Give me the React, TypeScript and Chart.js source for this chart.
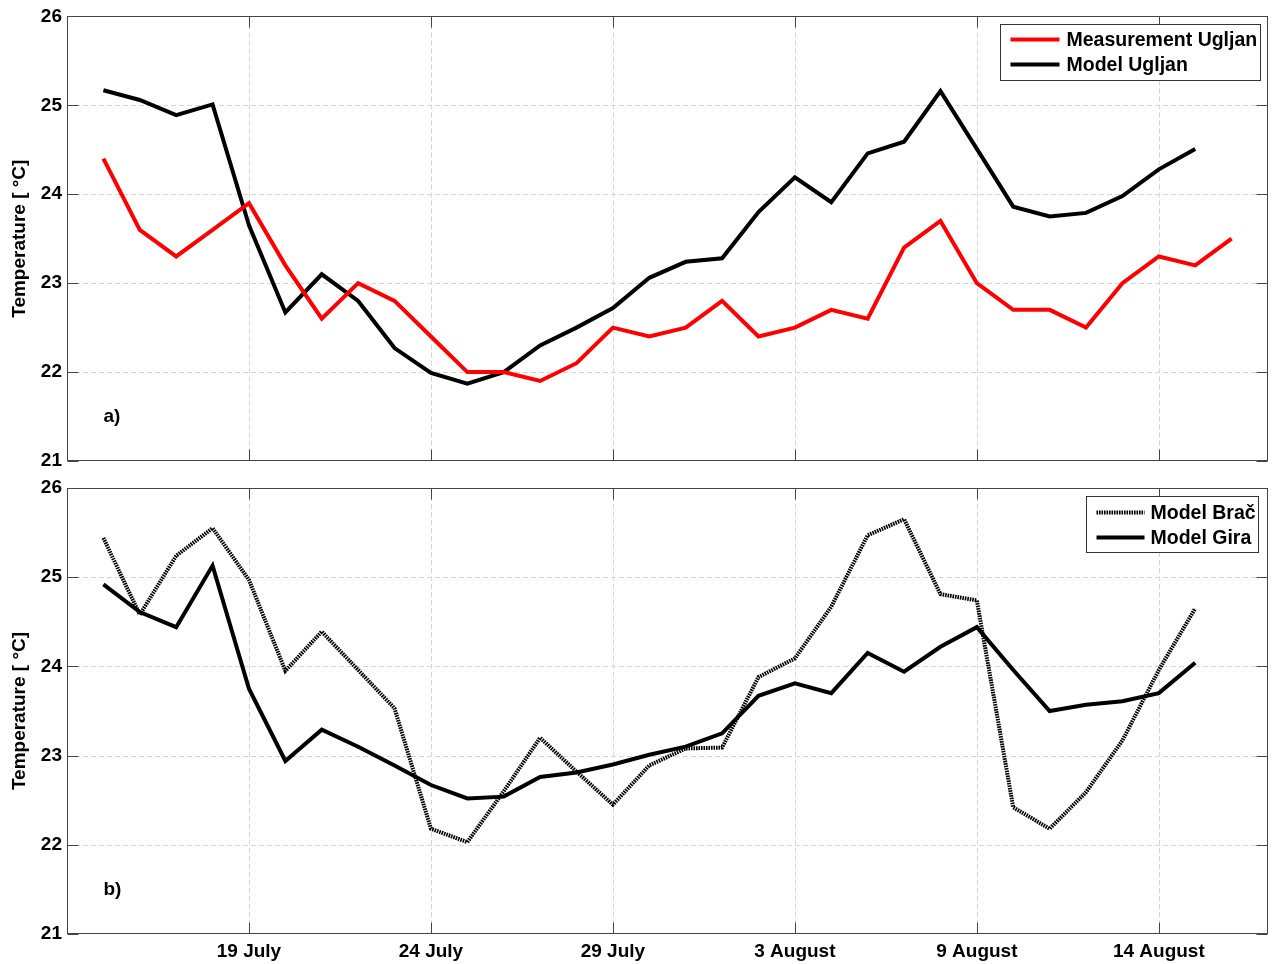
import React, { useEffect, useRef } from "react";
import { Chart, registerables } from "chart.js";

Chart.register(...registerables);

const FONT = "'Liberation Sans', Arial, Helvetica, sans-serif";

// Day index: 0 = 14 July
const tickDays = [5, 10, 15, 20, 25, 30];
const tickLabels = ["19 July", "24 July", "29 July", "3 August", "9 August", "14 August"];
const yTickValues = [21, 22, 23, 24, 25, 26];

const measurementUgljan = [
  24.4, 23.6, 23.3, 23.6, 23.9, 23.2, 22.6, 23.0, 22.8, 22.4, 22.0, 22.0, 21.9, 22.1, 22.5, 22.4,
  22.5, 22.8, 22.4, 22.5, 22.7, 22.6, 23.4, 23.7, 23.0, 22.7, 22.7, 22.5, 23.0, 23.3, 23.2, 23.5,
];
const modelUgljan = [
  25.17, 25.06, 24.89, 25.01, 23.65, 22.67, 23.1, 22.8, 22.27, 21.99, 21.87, 22.0, 22.3, 22.5, 22.72,
  23.06, 23.24, 23.28, 23.8, 24.19, 23.91, 24.46, 24.59, 25.16, 24.51, 23.86, 23.75, 23.79, 23.98,
  24.28, 24.51,
];
const modelBrac = [
  25.44, 24.58, 25.24, 25.55, 24.97, 23.95, 24.39, 23.96, 23.53, 22.18, 22.03, 22.6, 23.2, 22.82,
  22.45, 22.89, 23.08, 23.09, 23.88, 24.09, 24.67, 25.47, 25.65, 24.81, 24.74, 22.42, 22.18, 22.59,
  23.17, 23.96, 24.65,
];
const modelGira = [
  24.92, 24.61, 24.44, 25.13, 23.75, 22.94, 23.29, 23.1, 22.89, 22.67, 22.52, 22.54, 22.76, 22.81,
  22.9, 23.01, 23.1, 23.25, 23.67, 23.81, 23.7, 24.15, 23.94, 24.22, 24.44, 23.96, 23.5, 23.57,
  23.61, 23.7, 24.04,
];
const firstDay = 1;

const BRAC_DASH = [1.6, 0.9];

const toPoints = (arr: number[]) => arr.map((v, i) => ({ x: firstDay + i, y: v }));

type LegendItem = { label: string; color: string; dash: number[] };
type PanelOpts = {
  panelLabel: string;
  legend: { rightInset: number; topInset: number; width: number; height: number; items: LegendItem[]; sampleStart: number; sampleLen: number; textX: number; rowY: number[] };
};

const framePlugin = {
  id: "matlabFrame",
  beforeDatasetsDraw(chart: any, _args: any, opts: PanelOpts) {
    const { ctx, chartArea: a, scales } = chart;
    const xs = scales.x;
    const ys = scales.y;
    ctx.save();
    ctx.strokeStyle = "#d6d6d6";
    ctx.lineWidth = 1;
    ctx.setLineDash([5, 3]);
    xs.ticks.forEach((t: any) => {
      const px = Math.round(xs.getPixelForValue(t.value)) + 0.5;
      ctx.beginPath();
      ctx.moveTo(px, a.top);
      ctx.lineTo(px, a.bottom);
      ctx.stroke();
    });
    ys.ticks.forEach((t: any) => {
      if (t.value <= ys.min || t.value >= ys.max) return;
      const py = Math.round(ys.getPixelForValue(t.value)) + 0.5;
      ctx.beginPath();
      ctx.moveTo(a.left, py);
      ctx.lineTo(a.right, py);
      ctx.stroke();
    });
    ctx.restore();
  },
  afterDatasetsDraw(chart: any, _args: any, opts: PanelOpts) {
    const { ctx, chartArea: a, scales } = chart;
    const xs = scales.x;
    const ys = scales.y;
    ctx.save();
    ctx.setLineDash([]);
    ctx.strokeStyle = "#444";
    ctx.lineWidth = 1;
    const L = Math.round(a.left) + 0.5;
    const R = Math.round(a.right) - 0.5;
    const T = Math.round(a.top) + 0.5;
    const B = Math.round(a.bottom) - 0.5;
    ctx.strokeRect(L, T, R - L, B - T);
    const tl = 11;
    xs.ticks.forEach((t: any) => {
      const px = Math.round(xs.getPixelForValue(t.value)) + 0.5;
      ctx.beginPath();
      ctx.moveTo(px, B);
      ctx.lineTo(px, B - tl);
      ctx.moveTo(px, T);
      ctx.lineTo(px, T + tl);
      ctx.stroke();
    });
    ys.ticks.forEach((t: any) => {
      const py = Math.round(ys.getPixelForValue(t.value)) + 0.5;
      ctx.beginPath();
      ctx.moveTo(L, py);
      ctx.lineTo(L + tl, py);
      ctx.moveTo(R, py);
      ctx.lineTo(R - tl, py);
      ctx.stroke();
    });

    // panel label
    ctx.fillStyle = "#000";
    ctx.font = `bold 19px ${FONT}`;
    ctx.textAlign = "left";
    ctx.textBaseline = "middle";
    ctx.fillText(opts.panelLabel, xs.getPixelForValue(firstDay), ys.getPixelForValue(21.5));

    // legend
    const lg = opts.legend;
    const bx = Math.round(a.right - lg.rightInset - lg.width) + 0.5;
    const by = Math.round(a.top + lg.topInset) + 0.5;
    ctx.fillStyle = "#fff";
    ctx.fillRect(bx, by, lg.width, lg.height);
    ctx.strokeStyle = "#333";
    ctx.lineWidth = 1;
    ctx.strokeRect(bx, by, lg.width, lg.height);
    lg.items.forEach((it, i) => {
      const yy = by + lg.rowY[i];
      ctx.strokeStyle = it.color;
      ctx.lineWidth = 4;
      ctx.setLineDash(it.dash);
      ctx.beginPath();
      ctx.moveTo(bx + lg.sampleStart, yy);
      ctx.lineTo(bx + lg.sampleStart + lg.sampleLen, yy);
      ctx.stroke();
      ctx.setLineDash([]);
      ctx.fillStyle = "#000";
      ctx.font = `bold 19.5px ${FONT}`;
      ctx.textAlign = "left";
      ctx.textBaseline = "middle";
      ctx.fillText(it.label, bx + lg.textX, yy + 1);
    });
    ctx.restore();
  },
};

function buildConfig(
  datasets: any[],
  showXLabels: boolean,
  padTop: number,
  xAxisHeight: number,
  panel: PanelOpts
) {
  return {
    type: "line",
    data: { datasets },
    plugins: [framePlugin],
    options: {
      animation: false,
      responsive: false,
      maintainAspectRatio: false,
      parsing: false,
      layout: { padding: { left: 0, right: 4, top: padTop, bottom: 0 } },
      elements: { point: { radius: 0 }, line: { tension: 0, borderWidth: 4, borderJoinStyle: "miter" } },
      plugins: {
        legend: { display: false },
        tooltip: { enabled: false },
        matlabFrame: panel,
      },
      scales: {
        x: {
          type: "linear",
          min: 0,
          max: 33,
          grid: { display: false, drawTicks: false },
          border: { display: false },
          afterBuildTicks: (scale: any) => {
            scale.ticks = tickDays.map((v) => ({ value: v }));
          },
          afterFit: (scale: any) => {
            scale.height = xAxisHeight;
          },
          ticks: {
            display: showXLabels,
            autoSkip: false,
            maxRotation: 0,
            padding: 6,
            color: "#000",
            font: { family: FONT, size: 19, weight: "bold" },
            callback: (v: number) => {
              const i = tickDays.indexOf(v);
              return i >= 0 ? tickLabels[i] : "";
            },
          },
        },
        y: {
          type: "linear",
          min: 21,
          max: 26,
          grid: { display: false, drawTicks: false },
          border: { display: false },
          afterBuildTicks: (scale: any) => {
            scale.ticks = yTickValues.map((v) => ({ value: v }));
          },
          afterFit: (scale: any) => {
            scale.width = 67;
          },
          title: {
            display: true,
            text: "Temperature [ °C]",
            color: "#000",
            font: { family: FONT, size: 19, weight: "bold" },
            padding: { top: 8, bottom: 0 },
          },
          ticks: {
            padding: 5,
            color: "#000",
            font: { family: FONT, size: 19, weight: "bold" },
            callback: (v: number) => String(v),
          },
        },
      },
    },
  } as any;
}

function Panel({ top, height, config }: { top: number; height: number; config: () => any }) {
  const ref = useRef<HTMLCanvasElement | null>(null);
  useEffect(() => {
    if (!ref.current) return;
    const chart = new Chart(ref.current, config());
    return () => chart.destroy();
  }, []);
  return (
    <canvas
      ref={ref}
      width={1272}
      height={height}
      style={{ position: "absolute", left: 0, top, width: 1272, height }}
    />
  );
}

export default function App() {
  const topConfig = () =>
    buildConfig(
      [
        { label: "Measurement Ugljan", data: toPoints(measurementUgljan), borderColor: "#ff0000", borderWidth: 4 },
        { label: "Model Ugljan", data: toPoints(modelUgljan), borderColor: "#000000", borderWidth: 4 },
      ],
      false,
      15,
      19,
      {
        panelLabel: "a)",
        legend: {
          rightInset: 8,
          topInset: 8,
          width: 260,
          height: 56,
          sampleStart: 10,
          sampleLen: 49,
          textX: 66,
          rowY: [15, 40],
          items: [
            { label: "Measurement Ugljan", color: "#ff0000", dash: [] },
            { label: "Model Ugljan", color: "#000000", dash: [] },
          ],
        },
      }
    );
  const bottomConfig = () =>
    buildConfig(
      [
        { label: "Model Brač", data: toPoints(modelBrac), borderColor: "#000000", borderWidth: 4, borderDash: BRAC_DASH },
        { label: "Model Gira", data: toPoints(modelGira), borderColor: "#000000", borderWidth: 4 },
      ],
      true,
      18,
      30,
      {
        panelLabel: "b)",
        legend: {
          rightInset: 10,
          topInset: 8,
          width: 172,
          height: 56,
          sampleStart: 10,
          sampleLen: 48,
          textX: 64,
          rowY: [16, 41],
          items: [
            { label: "Model Brač", color: "#000000", dash: BRAC_DASH },
            { label: "Model Gira", color: "#000000", dash: [] },
          ],
        },
      }
    );
  return (
    <div style={{ position: "absolute", left: 0, top: 0, width: 1272, height: 964, background: "#fff" }}>
      <Panel top={0} height={480} config={topConfig} />
      <Panel top={470} height={494} config={bottomConfig} />
    </div>
  );
}
